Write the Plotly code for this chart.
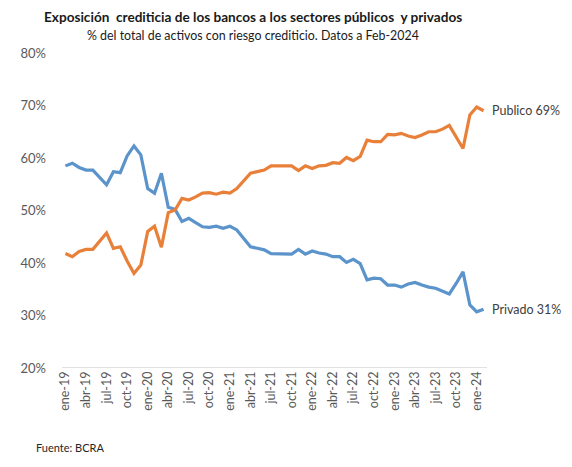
import plotly.graph_objects as go

meses = ["ene", "feb", "mar", "abr", "may", "jun", "jul", "ago", "sep", "oct", "nov", "dic"]
years = ["19", "20", "21", "22", "23", "24"]
categories = [f"{m}-{y}" for y in years for m in meses][:62]

privado = [58.5, 59.0, 58.2, 57.7, 57.7, 56.4, 54.9, 57.4, 57.2, 60.4, 62.3, 60.6,
           54.2, 53.3, 57.1, 50.6, 50.2, 47.9, 48.5, 47.7, 46.9, 46.8, 47.0, 46.6,
           47.0, 46.3, 44.7, 43.1, 42.8, 42.5, 41.8, 41.8, 41.8, 41.7, 42.6, 41.7,
           42.3, 41.9, 41.7, 41.2, 41.2, 40.1, 40.7, 39.9, 36.8, 37.1, 37.0, 35.8,
           35.8, 35.4, 36.0, 36.3, 35.8, 35.4, 35.2, 34.7, 34.1, 36.1, 38.3, 32.0,
           30.7, 31.2]

publico = [41.8, 41.2, 42.2, 42.6, 42.6, 44.1, 45.7, 42.8, 43.1, 40.4, 38.0, 39.6,
           46.0, 47.0, 43.0, 49.6, 50.1, 52.3, 52.0, 52.6, 53.3, 53.4, 53.1, 53.5,
           53.3, 54.2, 55.7, 57.1, 57.4, 57.7, 58.5, 58.5, 58.4, 58.5, 57.6, 58.5,
           58.0, 58.5, 58.6, 59.1, 59.0, 60.1, 59.5, 60.3, 63.4, 63.1, 63.1, 64.5,
           64.4, 64.7, 64.2, 63.9, 64.4, 65.0, 65.0, 65.5, 66.2, 64.0, 61.8, 68.2,
           69.7, 69.0]

tick_labels = categories[::3]
y_ticks = [20, 30, 40, 50, 60, 70, 80]

title = "Exposición  crediticia de los bancos a los sectores públicos  y privados"
subtitle = "% del total de activos con riesgo crediticio. Datos a Feb-2024"
label_pub = "Publico 69%"
label_priv = "Privado 31%"
source = "Fuente: BCRA"

BLUE = "#5B93CB"
ORANGE = "#E9803A"
FONT = "Lato, 'Open Sans', sans-serif"

fig = go.Figure()
fig.add_trace(go.Scatter(x=categories, y=privado, mode="lines",
                         line=dict(color=BLUE, width=3.2), name="Privado"))
fig.add_trace(go.Scatter(x=categories, y=publico, mode="lines",
                         line=dict(color=ORANGE, width=3.2), name="Publico"))

# page body has an 8px margin, so the figure is drawn 8px in from the top-left
fig.update_layout(
    width=564, height=459,
    margin=dict(l=47, r=85, t=45, b=99),
    paper_bgcolor="white", plot_bgcolor="white",
    showlegend=False,
    font=dict(family=FONT, color="#595959"),
    xaxis=dict(type="category", tickmode="array", tickvals=tick_labels,
               ticktext=tick_labels, tickangle=-90,
               tickfont=dict(size=12.5, color="#595959"),
               showgrid=False, showline=False, zeroline=False, ticks="",
               range=[-0.5, 61.5]),
    yaxis=dict(range=[20, 80], tickvals=y_ticks,
               ticktext=[f"{v}%" for v in y_ticks],
               tickfont=dict(size=13, color="#595959"),
               showgrid=False, zeroline=False, showline=False, ticks="",
               ticklen=0),
)

fig.update_yaxes(ticklabelstandoff=15)
fig.update_xaxes(ticklabelstandoff=0)

# baseline at 20%
fig.add_shape(type="line", xref="paper", yref="y", x0=0, x1=1, y0=20, y1=20,
              line=dict(color="#D9D9D9", width=1.3))

fig.add_annotation(x=61, y=publico[-1], xref="x", yref="y", text=label_pub,
                   showarrow=False, xanchor="left", xshift=6,
                   font=dict(size=12.5, color="#404040", family=FONT))
fig.add_annotation(x=61, y=privado[-1], xref="x", yref="y", text=label_priv,
                   showarrow=False, xanchor="left", xshift=6,
                   font=dict(size=12.5, color="#404040", family=FONT))

fig.add_annotation(x=0.449, y=1.114, xref="paper", yref="paper", text=f"<b>{title}</b>",
                   showarrow=False, xanchor="center", yanchor="middle",
                   font=dict(size=13.6, color="#1a1a1a", family=FONT))
fig.add_annotation(x=0.449, y=1.057, xref="paper", yref="paper", text=subtitle,
                   showarrow=False, xanchor="center", yanchor="middle",
                   font=dict(size=12.4, color="#1a1a1a", family=FONT))
fig.add_annotation(x=-0.067, y=-0.251, xref="paper", yref="paper", text=source,
                   showarrow=False, xanchor="left", yanchor="middle",
                   font=dict(size=11, color="#262626", family=FONT))

fig.write_html("out.html")
